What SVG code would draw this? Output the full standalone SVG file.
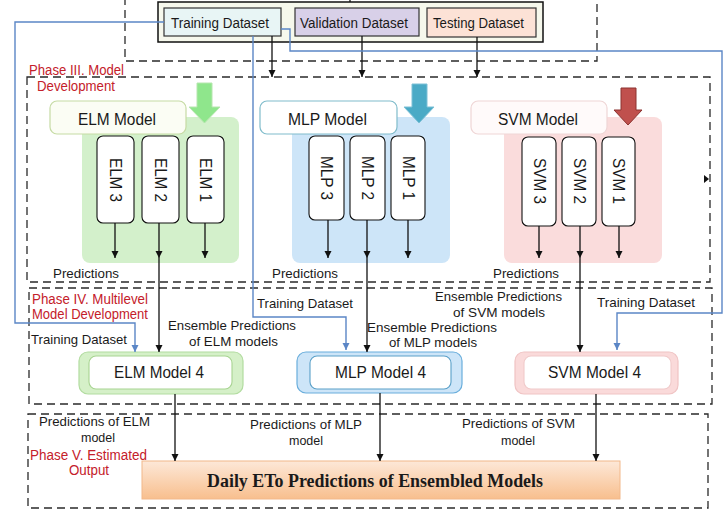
<svg xmlns="http://www.w3.org/2000/svg" width="723" height="514" viewBox="0 0 723 514">
<defs>
<marker id="ah" markerWidth="8" markerHeight="8" refX="7" refY="4" orient="auto" markerUnits="userSpaceOnUse"><path d="M0,0.5 L7,4 L0,7.5 Z" fill="#111"/></marker>
<marker id="ahb" markerWidth="8" markerHeight="8" refX="7" refY="4" orient="auto" markerUnits="userSpaceOnUse"><path d="M0,0.5 L7,4 L0,7.5 Z" fill="#5b86c6"/></marker>
<linearGradient id="og" x1="0" y1="0" x2="0" y2="1"><stop offset="0" stop-color="#fde8d8"/><stop offset="1" stop-color="#f8bf8e"/></linearGradient>
</defs>
<style>
text{font-family:"Liberation Sans",Arial,sans-serif;fill:#1a1a1a}
.dash{fill:none;stroke:#2a2a2a;stroke-width:1.3;stroke-dasharray:8,5}
.ds{font-size:14px}
.lbl{font-size:13.5px}
.red{font-size:14px;fill:#c4202a}
.pr{font-size:12.5px}
.mt{font-size:16px}
.m4{font-size:16.5px}
.rt{font-size:17px}
.sub{fill:#fff;stroke:#111;stroke-width:1.1}
.ln{fill:none;stroke:#111;stroke-width:1.3}
.bl{fill:none;stroke:#5b86c6;stroke-width:1.4}
</style>
<rect width="723" height="514" fill="#fff"/>
<g id="frames">
<rect class="dash" x="125" y="-5" width="472" height="66"/>
<rect class="dash" x="27" y="77" width="683" height="205"/>
<rect class="dash" x="29" y="288" width="683" height="116"/>
<rect class="dash" x="28" y="414" width="680" height="94"/>
</g>
<g id="datasets">
<rect x="158" y="2" width="385" height="40" fill="#f6f8ec" stroke="#111" stroke-width="1.5"/>
<g id="training"><rect x="164" y="8" width="117" height="28" fill="#e8f5f5" stroke="#333" stroke-width="1.2"/><text class="ds" x="220" y="28" text-anchor="middle" textLength="98" lengthAdjust="spacingAndGlyphs">Training Dataset</text></g>
<g id="validation"><rect x="295" y="8" width="124" height="28" fill="#d8d0e8" stroke="#333" stroke-width="1.2"/><text class="ds" x="354" y="28" text-anchor="middle" textLength="108" lengthAdjust="spacingAndGlyphs">Validation Dataset</text></g>
<g id="testing"><rect x="427" y="8" width="109" height="29" fill="#fce2d6" stroke="#333" stroke-width="1.2"/><text class="ds" x="478.5" y="28" text-anchor="middle" textLength="91" lengthAdjust="spacingAndGlyphs">Testing Dataset</text></g>
</g>
<g id="labels">
<text class="red" x="29" y="75" textLength="95" lengthAdjust="spacingAndGlyphs">Phase III. Model</text>
<text class="red" x="37" y="91" textLength="78" lengthAdjust="spacingAndGlyphs">Development</text>
<text class="lbl" x="53" y="278" textLength="66" lengthAdjust="spacingAndGlyphs">Predictions</text>
<text class="lbl" x="272" y="278" textLength="66" lengthAdjust="spacingAndGlyphs">Predictions</text>
<text class="lbl" x="493" y="278" textLength="66" lengthAdjust="spacingAndGlyphs">Predictions</text>
<text class="red" x="32" y="304" textLength="116" lengthAdjust="spacingAndGlyphs">Phase IV. Multilevel</text>
<text class="red" x="32" y="319" textLength="116" lengthAdjust="spacingAndGlyphs">Model Development</text>
<text class="lbl" x="31" y="344" textLength="96" lengthAdjust="spacingAndGlyphs">Training Dataset</text>
<text class="lbl" x="232" y="330" text-anchor="middle" textLength="128" lengthAdjust="spacingAndGlyphs">Ensemble Predictions</text>
<text class="lbl" x="233.5" y="346" text-anchor="middle" textLength="89" lengthAdjust="spacingAndGlyphs">of ELM models</text>
<text class="lbl" x="257" y="308" textLength="96" lengthAdjust="spacingAndGlyphs">Training Dataset</text>
<text class="lbl" x="432" y="332" text-anchor="middle" textLength="130" lengthAdjust="spacingAndGlyphs">Ensemble Predictions</text>
<text class="lbl" x="433" y="347" text-anchor="middle" textLength="88" lengthAdjust="spacingAndGlyphs">of MLP models</text>
<text class="lbl" x="498.5" y="301" text-anchor="middle" textLength="127" lengthAdjust="spacingAndGlyphs">Ensemble Predictions</text>
<text class="lbl" x="499" y="317" text-anchor="middle" textLength="92" lengthAdjust="spacingAndGlyphs">of SVM models</text>
<text class="lbl" x="597" y="307" textLength="98" lengthAdjust="spacingAndGlyphs">Training Dataset</text>
<text class="pr" x="94.5" y="426" text-anchor="middle" textLength="111" lengthAdjust="spacingAndGlyphs">Predictions of ELM</text>
<text class="pr" x="98" y="442" text-anchor="middle">model</text>
<text class="red" x="88.5" y="460" text-anchor="middle" textLength="117" lengthAdjust="spacingAndGlyphs">Phase V. Estimated</text>
<text class="red" x="89" y="475" text-anchor="middle" textLength="40" lengthAdjust="spacingAndGlyphs">Output</text>
<text class="pr" x="306" y="429" text-anchor="middle" textLength="112" lengthAdjust="spacingAndGlyphs">Predictions of MLP</text>
<text class="pr" x="306" y="445" text-anchor="middle">model</text>
<text class="pr" x="518.5" y="428" text-anchor="middle" textLength="113" lengthAdjust="spacingAndGlyphs">Predictions of SVM</text>
<text class="pr" x="518" y="445" text-anchor="middle">model</text>
</g>
<g id="elm-group">
<rect x="82" y="117" width="157" height="146" rx="8" fill="#d3f0cb"/>
<path d="M197,83 H212 V107 H220 L204.5,123 L189,107 H197 Z" fill="#8fe68c" stroke="#b6e6ae" stroke-width="1"/>
<rect x="50" y="101" width="136" height="33" rx="7" fill="#fbfdf4" stroke="#c6dba4" stroke-width="1.2"/>
<text class="mt" x="117" y="125" text-anchor="middle" textLength="78" lengthAdjust="spacingAndGlyphs">ELM Model</text>
<g id="elm3"><rect class="sub" x="97" y="136" width="37" height="87" rx="6"/><text class="rt" transform="translate(115.5,180) rotate(90)" text-anchor="middle" dominant-baseline="central" textLength="44" lengthAdjust="spacingAndGlyphs">ELM 3</text></g>
<g id="elm2"><rect class="sub" x="142" y="136" width="37" height="87" rx="6"/><text class="rt" transform="translate(160.5,180) rotate(90)" text-anchor="middle" dominant-baseline="central" textLength="44" lengthAdjust="spacingAndGlyphs">ELM 2</text></g>
<g id="elm1"><rect class="sub" x="187" y="136" width="37" height="87" rx="6"/><text class="rt" transform="translate(205.5,180) rotate(90)" text-anchor="middle" dominant-baseline="central" textLength="44" lengthAdjust="spacingAndGlyphs">ELM 1</text></g>
</g>
<g id="mlp-group">
<rect x="292" y="117" width="158" height="146" rx="8" fill="#cde5f8"/>
<path d="M412,84 H427 V107 H434 L419,123 L404,107 H412 Z" fill="#4aaac6" stroke="#7cc0d6" stroke-width="1"/>
<rect x="260" y="101" width="137" height="33" rx="7" fill="#fff" stroke="#80bccb" stroke-width="1.2"/>
<text class="mt" x="327.5" y="125" text-anchor="middle" textLength="79" lengthAdjust="spacingAndGlyphs">MLP Model</text>
<g id="mlp3"><rect class="sub" x="309" y="136" width="35" height="84" rx="6"/><text class="rt" transform="translate(326.5,178) rotate(90)" text-anchor="middle" dominant-baseline="central" textLength="44" lengthAdjust="spacingAndGlyphs">MLP 3</text></g>
<g id="mlp2"><rect class="sub" x="350" y="136" width="35" height="84" rx="6"/><text class="rt" transform="translate(367.5,178) rotate(90)" text-anchor="middle" dominant-baseline="central" textLength="44" lengthAdjust="spacingAndGlyphs">MLP 2</text></g>
<g id="mlp1"><rect class="sub" x="391" y="136" width="34" height="84" rx="6"/><text class="rt" transform="translate(408,178) rotate(90)" text-anchor="middle" dominant-baseline="central" textLength="44" lengthAdjust="spacingAndGlyphs">MLP 1</text></g>
</g>
<g id="svm-group">
<rect x="504" y="117" width="158" height="146" rx="8" fill="#fadcdc"/>
<path d="M621,88 H636 V110 H642 L628,125 L614,110 H621 Z" fill="#c0504d" stroke="#8c3330" stroke-width="1"/>
<rect x="471" y="101" width="136" height="33" rx="7" fill="#fffafa" stroke="#efd6d6" stroke-width="1.2"/>
<text class="mt" x="538" y="125" text-anchor="middle" textLength="80" lengthAdjust="spacingAndGlyphs">SVM Model</text>
<g id="svm3"><rect class="sub" x="522" y="137" width="34" height="89" rx="6"/><text class="rt" transform="translate(539,181) rotate(90)" text-anchor="middle" dominant-baseline="central" textLength="46" lengthAdjust="spacingAndGlyphs">SVM 3</text></g>
<g id="svm2"><rect class="sub" x="562" y="137" width="34" height="89" rx="6"/><text class="rt" transform="translate(579,181) rotate(90)" text-anchor="middle" dominant-baseline="central" textLength="46" lengthAdjust="spacingAndGlyphs">SVM 2</text></g>
<g id="svm1"><rect class="sub" x="602" y="137" width="33" height="89" rx="6"/><text class="rt" transform="translate(618.5,181) rotate(90)" text-anchor="middle" dominant-baseline="central" textLength="46" lengthAdjust="spacingAndGlyphs">SVM 1</text></g>
</g>
<g id="elm4"><rect x="79" y="352" width="164" height="42" rx="9" fill="#d5f0c8" stroke="#b2dca0" stroke-width="1.2"/><rect x="89" y="356" width="143" height="33" rx="7" fill="#fff" stroke="#a8d492" stroke-width="1.1"/><text class="m4" x="159" y="378" text-anchor="middle" textLength="90" lengthAdjust="spacingAndGlyphs">ELM Model 4</text></g>
<g id="mlp4"><rect x="297" y="352" width="165" height="41" rx="9" fill="#cde5f8" stroke="#6aaedc" stroke-width="1.2"/><rect x="310" y="356" width="141" height="33" rx="7" fill="#fff" stroke="#5aa0c8" stroke-width="1.1"/><text class="m4" x="380.5" y="378" text-anchor="middle" textLength="91" lengthAdjust="spacingAndGlyphs">MLP Model 4</text></g>
<g id="svm4"><rect x="515" y="352" width="163" height="42" rx="9" fill="#fadada" stroke="#f0c4c4" stroke-width="1.2"/><rect x="524" y="356" width="147" height="33" rx="7" fill="#fff" stroke="#f0caca" stroke-width="1.1"/><text class="m4" x="594.5" y="378" text-anchor="middle" textLength="93" lengthAdjust="spacingAndGlyphs">SVM Model 4</text></g>
<g id="output"><rect x="142" y="461" width="478" height="38" fill="url(#og)" stroke="#f2b88a" stroke-width="1"/><text x="375" y="487" text-anchor="middle" style="font-family:'Liberation Serif','Times New Roman',serif;font-weight:bold;font-size:18px" textLength="336" lengthAdjust="spacingAndGlyphs">Daily ETo Predictions of Ensembled Models</text></g>
<g id="connectors">
<line class="ln" x1="350" y1="-5" x2="350" y2="2"/>
<line class="ln" x1="272" y1="36" x2="272" y2="77" marker-end="url(#ah)"/>
<line class="ln" x1="362" y1="36" x2="362" y2="77" marker-end="url(#ah)"/>
<line class="ln" x1="477" y1="37" x2="477" y2="77" marker-end="url(#ah)"/>
<path class="bl" d="M164,22 H15 V323 H135 V352" marker-end="url(#ahb)"/>
<path class="bl" d="M253,36 V317 H346 V350" marker-end="url(#ahb)"/>
<path class="bl" d="M281,29 H290 V51 H722 V313 H617 V350" marker-end="url(#ahb)"/>
<line class="ln" x1="115" y1="223" x2="115" y2="258" marker-end="url(#ah)"/>
<line class="ln" x1="159" y1="223" x2="159" y2="258" marker-end="url(#ah)"/>
<line class="ln" x1="159" y1="258" x2="159" y2="352" marker-end="url(#ah)"/>
<line class="ln" x1="205" y1="223" x2="205" y2="258" marker-end="url(#ah)"/>
<line class="ln" x1="328" y1="220" x2="328" y2="258" marker-end="url(#ah)"/>
<line class="ln" x1="367" y1="220" x2="367" y2="258" marker-end="url(#ah)"/>
<line class="ln" x1="367" y1="258" x2="367" y2="352" marker-end="url(#ah)"/>
<line class="ln" x1="408" y1="220" x2="408" y2="258" marker-end="url(#ah)"/>
<line class="ln" x1="539" y1="226" x2="539" y2="258" marker-end="url(#ah)"/>
<line class="ln" x1="580" y1="226" x2="580" y2="258" marker-end="url(#ah)"/>
<line class="ln" x1="580" y1="258" x2="580" y2="352" marker-end="url(#ah)"/>
<line class="ln" x1="619" y1="226" x2="619" y2="258" marker-end="url(#ah)"/>
<path d="M704,175 L709,179 L704,183 Z" fill="#111"/>
<line class="ln" x1="175" y1="394" x2="175" y2="461" marker-end="url(#ah)"/>
<line class="ln" x1="380" y1="393" x2="380" y2="461" marker-end="url(#ah)"/>
<line class="ln" x1="596" y1="394" x2="596" y2="461" marker-end="url(#ah)"/>
</g>
</svg>
